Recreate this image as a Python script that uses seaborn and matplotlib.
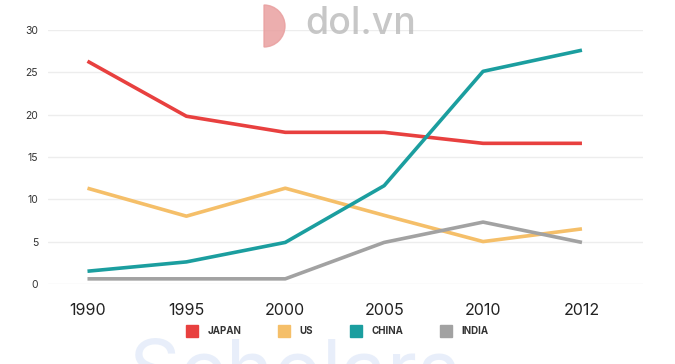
import pandas as pd
import seaborn as sns
import matplotlib.pyplot as plt
from matplotlib.lines import Line2D
from matplotlib.patches import Wedge

years = ['1990', '1995', '2000', '2005', '2010', '2012']
japan = [26.3, 19.8, 17.9, 17.9, 16.6, 16.6]
us = [11.3, 8.0, 11.3, 8.1, 5.0, 6.5]
china = [1.5, 2.6, 4.9, 11.6, 25.1, 27.6]
india = [0.6, 0.6, 0.6, 4.9, 7.3, 4.9]
countries = ['JAPAN', 'US', 'CHINA', 'INDIA']
colors = ['#E8403F', '#F5BF69', '#1B9E9F', '#A2A2A2']

df = pd.DataFrame({'year': years * 4,
                   'value': japan + us + china + india,
                   'country': [c for c in countries for _ in years]})

sns.set_theme(style='white')
plt.rcParams['font.family'] = ['Inter', 'DejaVu Sans']

fig = plt.figure(figsize=(6.75, 3.64), dpi=100)
ax = fig.add_axes([0.071, 0.22, 0.882, 0.698])

# watermarks (logo + faint brand text)
fig.add_artist(Wedge((2.64, 3.38), 0.21, -90, 90, color='#E9A0A0',
                     alpha=0.85, transform=fig.dpi_scale_trans))
fig.text(0.452, 0.935, 'dol.vn', ha='left', va='center', fontsize=27,
         color='#BDBDBD', alpha=0.85, fontweight='medium')
fig.text(0.19, -0.14, 'Scholars', ha='left', va='bottom', fontsize=58,
         color='#D9E4F7', alpha=0.6, zorder=0)

sns.lineplot(data=df, x='year', y='value', hue='country', palette=colors,
             linewidth=2.6, ax=ax, legend=False, sort=False)
for ln in ax.lines:
    ln.set_clip_on(False)
    ln.set_solid_capstyle('butt')

ax.set_xlim(-0.4, 5.62)
ax.set_ylim(0, 30)
ax.set_yticks(range(0, 31, 5))
ax.grid(axis='y', color='#EDEDED', linewidth=1)
ax.set_axisbelow(True)
ax.patch.set_alpha(0)
sns.despine(ax=ax, left=True, bottom=True)
ax.tick_params(axis='y', labelsize=7.5, colors='#333333', length=0, pad=7)
ax.tick_params(axis='x', labelsize=11.5, colors='#222222', length=0, pad=14)
ax.set_xlabel('')
ax.set_ylabel('')

handles = [Line2D([], [], marker='s', linestyle='', markersize=9,
                  markerfacecolor=c, markeredgecolor=c) for c in colors]
fig.legend(handles, countries, loc='center', bbox_to_anchor=(0.497, 0.09),
           ncol=4, frameon=False, handletextpad=0.6, columnspacing=3.4,
           prop={'size': 7, 'weight': 'bold'}, labelcolor='#333333')

fig.savefig('out.png', dpi=100)
